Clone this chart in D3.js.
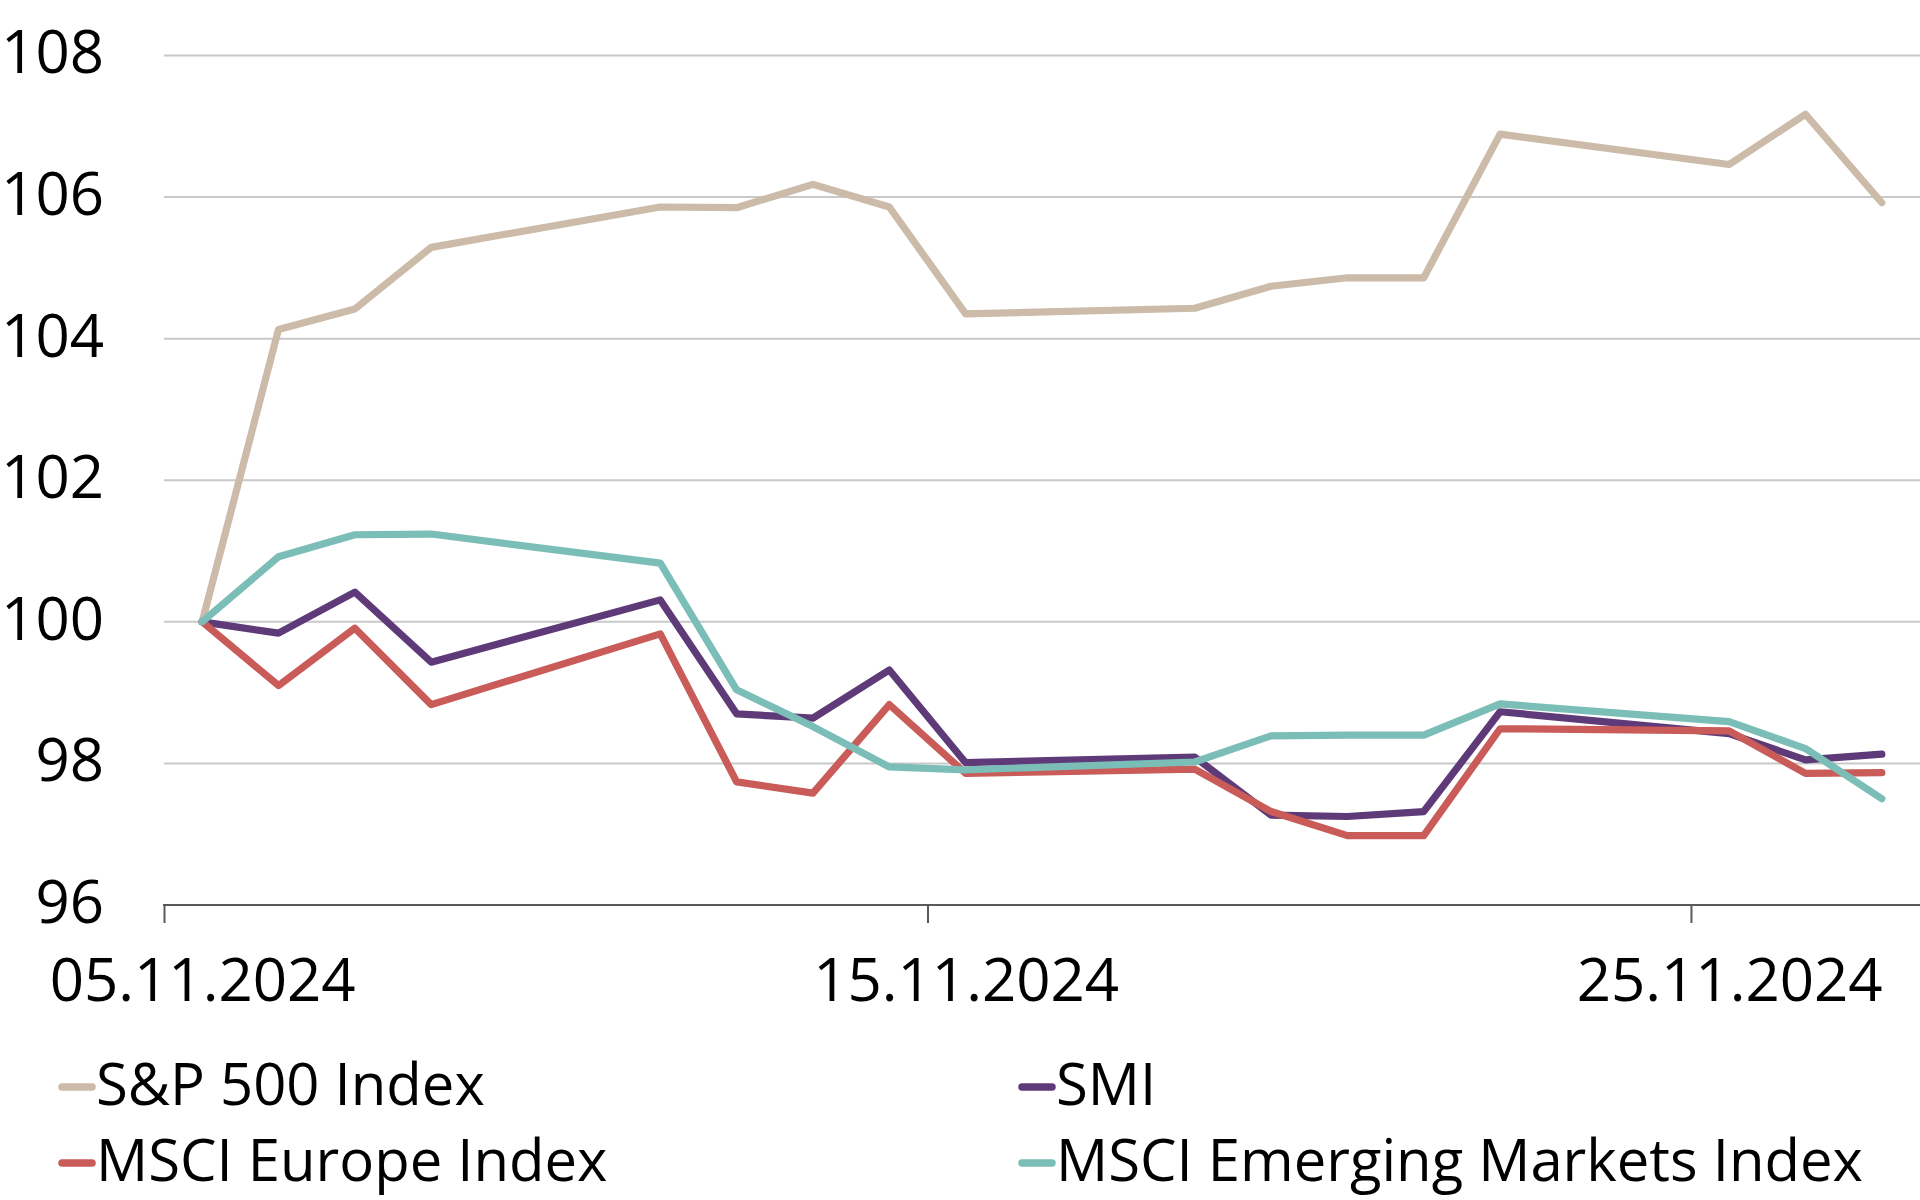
<!DOCTYPE html>
<html>
<head>
<meta charset="utf-8">
<script src="https://cdn.jsdelivr.net/npm/d3@7"></script>
<style>
  html, body { margin: 0; padding: 0; background: #ffffff; }
  svg { display: block; font-family: "Open Sans", "Noto Sans", sans-serif; }
</style>
</head>
<body>
<svg id="chart" width="1920" height="1200"></svg>
<script>
// ---- data ----
const dates = ["2024-11-05","2024-11-06","2024-11-07","2024-11-08","2024-11-11","2024-11-12","2024-11-13","2024-11-14","2024-11-15","2024-11-18","2024-11-19","2024-11-20","2024-11-21","2024-11-22","2024-11-25","2024-11-26","2024-11-27"];
const sp500  = [100,104.13,104.42,105.29,105.86,105.85,106.18,105.86,104.35,104.43,104.74,104.86,104.86,106.89,106.46,107.17,105.92];
const smi    = [100,99.84,100.42,99.43,100.31,98.70,98.64,99.32,98.01,98.09,97.27,97.25,97.32,98.73,98.42,98.05,98.13];
const europe = [100,99.10,99.91,98.83,99.83,97.74,97.58,98.83,97.86,97.92,97.32,96.98,96.98,98.49,98.46,97.86,97.87];
const em     = [100,100.92,101.23,101.24,100.83,99.04,98.52,97.95,97.91,98.02,98.39,98.40,98.40,98.84,98.59,98.21,97.50];
const seriesNames = ["S&P 500 Index","SMI","MSCI Europe Index","MSCI Emerging Markets Index"];
const seriesColors = ["#ccbba8","#5f3a78","#c95b58","#7bbdb7"];
const yTicks = [96,98,100,102,104,106,108];
const xTickDates = ["2024-11-05","2024-11-15","2024-11-25"];

// ---- setup ----
const svg = d3.select("#chart");
const parse = d3.utcParse("%Y-%m-%d");
const DAY = 86400000;
const firstDay = parse(dates[0]), lastDay = parse(dates[dates.length-1]);
const x = d3.scaleUtc()
  .domain([new Date(+firstDay - DAY/2), new Date(+lastDay + DAY/2)])
  .range([164, 1920]);
const y = d3.scaleLinear().domain([96,108]).range([905, 55.5]);
const dayWidth = x(new Date(+firstDay + DAY)) - x(firstDay);

// gridlines
svg.append("g").selectAll("line")
  .data(yTicks.filter(v => v !== 96))
  .join("line")
  .attr("x1", 164).attr("x2", 1920)
  .attr("y1", d => y(d)).attr("y2", d => y(d))
  .attr("stroke", "#c9c9c9").attr("stroke-width", 2);

// y labels
const yAxis = d3.axisLeft(y).tickValues(yTicks).tickSize(0).tickPadding(0).tickFormat(d3.format("d"));
const gy = svg.append("g").attr("transform", "translate(104,0)").call(yAxis);
gy.select(".domain").remove();
gy.selectAll("text")
  .attr("font-family", "'Open Sans', sans-serif")
  .attr("font-size", 60).attr("fill", "#000")
  .attr("dy", "0.29em");

// x axis
const xAxis = d3.axisBottom(x)
  .tickValues(xTickDates.map(parse))
  .tickFormat(d3.utcFormat("%d.%m.%Y"))
  .tickSize(0).tickPadding(0);
const gx = svg.append("g").attr("transform", "translate(0,905)").call(xAxis);
gx.select(".domain").attr("stroke", "#595959").attr("stroke-width", 2.2).attr("d", "M163,0H1920");
gx.selectAll("text")
  .attr("font-family", "'Open Sans', sans-serif")
  .attr("font-size", 60).attr("fill", "#000")
  .attr("dy", 0).attr("y", 96);
// tick marks at the category boundaries
gx.selectAll(".tick").append("line")
  .attr("x1", -dayWidth/2).attr("x2", -dayWidth/2)
  .attr("y1", 0).attr("y2", 18)
  .attr("stroke", "#595959").attr("stroke-width", 2);

// lines
const allSeries = [sp500, smi, europe, em];
const line = d3.line().x((d,i) => x(parse(dates[i]))).y(d => y(d));
svg.append("g").selectAll("path")
  .data(allSeries)
  .join("path")
  .attr("d", d => line(d))
  .attr("fill", "none")
  .attr("stroke", (d,i) => seriesColors[i])
  .attr("stroke-width", 7.2)
  .attr("stroke-linejoin", "round")
  .attr("stroke-linecap", "round");

// legend
const legendPos = [[59,1085],[1019,1085],[59,1161],[1019,1161]];
const legend = svg.append("g").selectAll("g")
  .data(seriesNames)
  .join("g")
  .attr("transform", (d,i) => `translate(${legendPos[i][0]},${legendPos[i][1]})`);
legend.append("line")
  .attr("x1", 3).attr("x2", 33).attr("y1", 2).attr("y2", 2)
  .attr("stroke", (d,i) => seriesColors[i])
  .attr("stroke-width", 7.5).attr("stroke-linecap", "round");
legend.append("text")
  .attr("x", 37).attr("y", 20)
  .attr("font-family", "'Open Sans', sans-serif")
  .attr("font-size", 58).attr("fill", "#000")
  .text(d => d);
</script>
</body>
</html>
